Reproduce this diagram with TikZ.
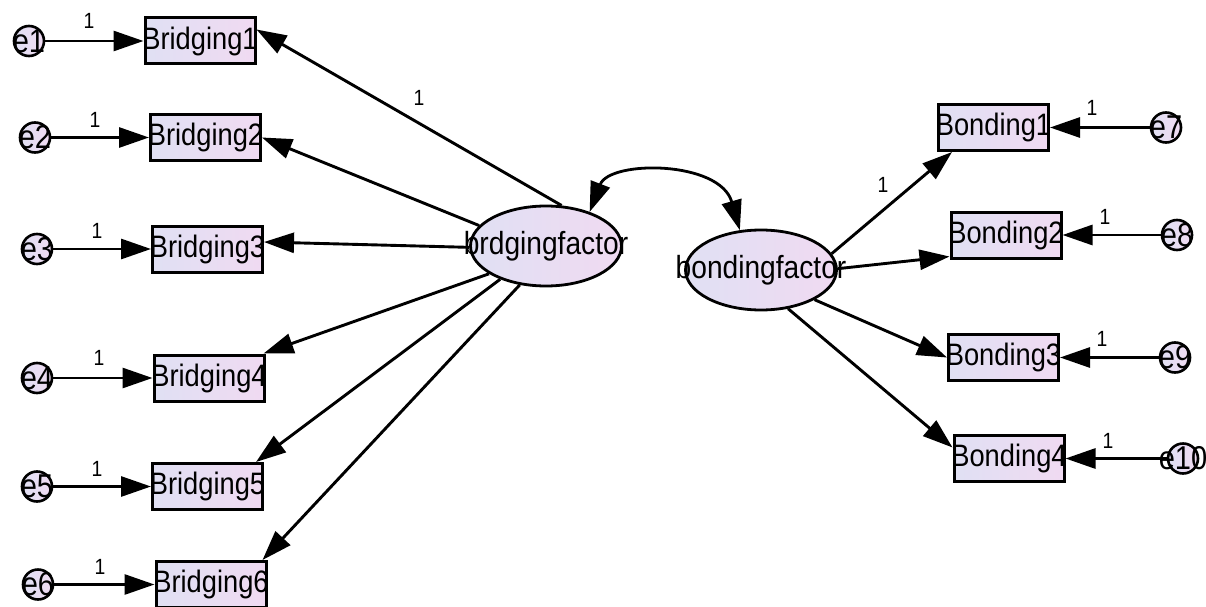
\documentclass[tikz,border=0pt]{standalone}
\usepackage{fontspec}
\setmainfont[FakeStretch=0.88]{Liberation Sans}
\usetikzlibrary{arrows.meta,shapes.geometric}
\definecolor{fillL}{RGB}{224,224,243}
\definecolor{fillR}{RGB}{240,218,242}
\tikzset{
  obs/.style={draw=black, line width=3pt, minimum width=110pt, minimum height=46pt,
    inner sep=0pt, left color=fillL, right color=fillR, font=\fontsize{31}{36}\selectfont},
  lat/.style={ellipse, draw=black, line width=2.8pt, minimum width=151pt, minimum height=80pt,
    inner sep=0pt, left color=fillL, right color=fillR, font=\fontsize{32}{38}\selectfont},
  err/.style={circle, draw=black, line width=2.6pt, minimum size=30pt, inner sep=0pt,
    left color=fillL, right color=fillR, font=\fontsize{33}{38}\selectfont},
  conn/.style={line width=2.9pt, -{Triangle[length=30pt,width=20pt]}},
  wlab/.style={font=\fontsize{22}{26}\selectfont, inner sep=0pt}
}
\begin{document}
\begin{tikzpicture}[x=1pt,y=-1pt]
\useasboundingbox[fill=white] (0,0) rectangle (1206,607);
% observed (left)
\node[obs] (b1) at (200,41) {\makebox[0pt]{Bridging1}};
\node[obs] (b2) at (205.5,137.5) {\makebox[0pt]{Bridging2}};
\node[obs] (b3) at (207.5,249) {\makebox[0pt]{Bridging3}};
\node[obs] (b4) at (209,378) {\makebox[0pt]{Bridging4}};
\node[obs] (b5) at (207.5,486.5) {\makebox[0pt]{Bridging5}};
\node[obs] (b6) at (211,584.5) {\makebox[0pt]{Bridging6}};
% observed (right)
\node[obs] (o1) at (993.5,127.5) {\makebox[0pt]{Bonding1}};
\node[obs] (o2) at (1006,235) {\makebox[0pt]{Bonding2}};
\node[obs] (o3) at (1003.5,357.5) {\makebox[0pt]{Bonding3}};
\node[obs] (o4) at (1009,458.5) {\makebox[0pt]{Bonding4}};
% latent
\node[lat] (bf) at (546,246) {\makebox[0pt]{brdgingfactor}};
\node[lat] (bo) at (761,270) {\makebox[0pt]{bondingfactor}};
% errors
\node[err] (e1) at (29,41) {\makebox[0pt]{e1}};
\node[err] (e2) at (35,137.5) {\makebox[0pt]{e2}};
\node[err] (e3) at (37,249) {\makebox[0pt]{e3}};
\node[err] (e4) at (37,378) {\makebox[0pt]{e4}};
\node[err] (e5) at (37,486.5) {\makebox[0pt]{e5}};
\node[err] (e6) at (38,584.5) {\makebox[0pt]{e6}};
\node[err] (e7) at (1166,127.5) {\makebox[0pt]{e7}};
\node[err] (e8) at (1177,235) {\makebox[0pt]{e8}};
\node[err] (e9) at (1175,357.5) {\makebox[0pt]{e9}};
\node[err] (e10) at (1183,458.5) {\makebox[0pt]{e10}};
% error arrows
\draw[conn] (e1) -- (b1);
\draw[conn] (e2) -- (b2);
\draw[conn] (e3) -- (b3);
\draw[conn] (e4) -- (b4);
\draw[conn] (e5) -- (b5);
\draw[conn] (e6) -- (b6);
\draw[conn] (e7) -- (o1);
\draw[conn] (e8) -- (o2);
\draw[conn] (e9) -- (o3);
\draw[conn] (e10) -- (o4);
% loadings
\draw[conn] (bf.69) -- ([yshift=-13pt]b1.north east);
\draw[conn] (bf.163) -- (b2.east);
\draw[conn] (bf.181) -- ([yshift=7pt]b3.east);
\draw[conn] (bf.206) -- ([xshift=-2pt]b4.north east);
\draw[conn] (bf.216) -- ([xshift=-8pt]b5.north east);
\draw[conn] (bf.236) -- ([xshift=-5pt]b6.north east);
\draw[conn] (bo.13) -- ([xshift=15pt]o1.south west);
\draw[conn] (bo.1) -- ([yshift=3pt]o2.south west);
\draw[conn] (bo.331) -- (o3.west);
\draw[conn] (bo.305) -- ([yshift=11pt]o4.west);
% covariance
\draw[line width=2.8pt, {Triangle[length=30pt,width=20pt]}-{Triangle[length=30pt,width=20pt]}]
  (bf.38) .. controls +(20,-52) and +(-20,-70) .. (bo.118);
% weight labels
\node[wlab] (l1) at (89,21) {1};
\node[wlab] (l2) at (95,120) {1};
\node[wlab] (l3) at (97,231) {1};
\node[wlab] (l4) at (99,358) {1};
\node[wlab] (l5) at (97,469) {1};
\node[wlab] (l6) at (100,567) {1};
\node[wlab] (l7) at (1092,108) {1};
\node[wlab] (l8) at (1105,217) {1};
\node[wlab] (l9) at (1102,339) {1};
\node[wlab] (l10) at (1108,441) {1};
\node[wlab] (lb) at (419,98) {1};
\node[wlab] (lo) at (883,185) {1};
\end{tikzpicture}
\end{document}
